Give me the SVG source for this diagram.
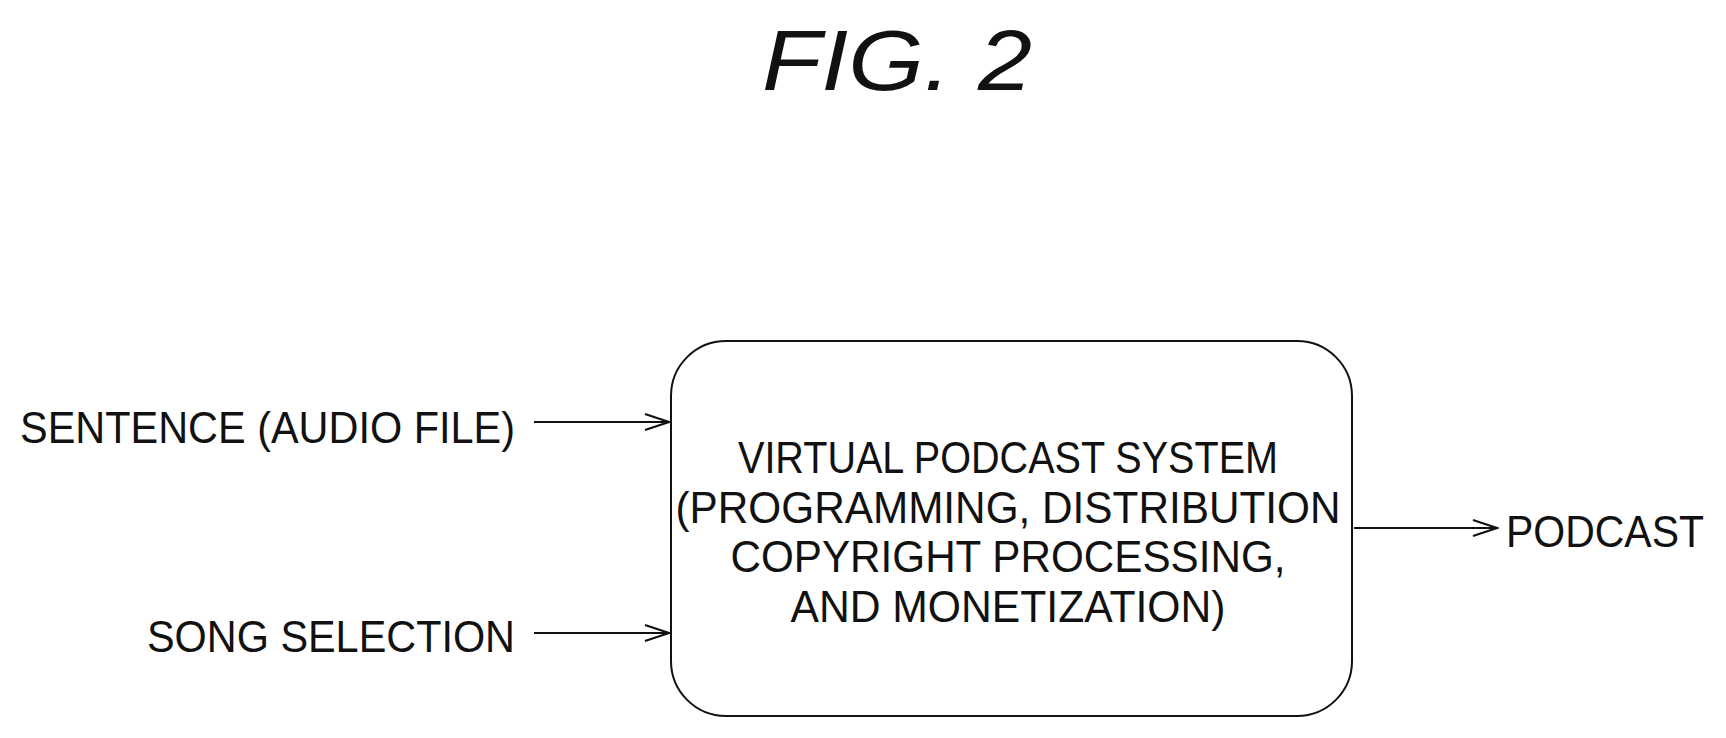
<svg xmlns="http://www.w3.org/2000/svg" width="1726" height="738" viewBox="0 0 1726 738">
<style>
text{font-family:"Liberation Sans",Arial,sans-serif;fill:#111}
.l{font-size:44px}
.c{font-size:44px;text-anchor:middle}
.ln{stroke:#111;stroke-width:2;fill:none}
</style>
<defs><marker id="a" markerWidth="28" markerHeight="20" refX="26" refY="10" orient="auto" markerUnits="userSpaceOnUse"><path d="M2,2 L26,10 L2,18" fill="none" stroke="#111" stroke-width="2"/></marker></defs>
<rect width="1726" height="738" fill="#fff"/>
<text x="897" y="90" font-size="86" font-style="italic" text-anchor="middle" textLength="270" lengthAdjust="spacingAndGlyphs">FIG. 2</text>
<g id="input1"><text class="l" x="20" y="443" textLength="495" lengthAdjust="spacingAndGlyphs">SENTENCE (AUDIO FILE)</text></g>
<g id="input2"><text class="l" x="147" y="652" textLength="368" lengthAdjust="spacingAndGlyphs">SONG SELECTION</text></g>
<g id="system">
<rect x="671" y="341" width="681" height="375" rx="55" class="ln" stroke-width="2.5"/>
<text class="c" x="1008" y="473" textLength="540" lengthAdjust="spacingAndGlyphs">VIRTUAL PODCAST SYSTEM</text>
<text class="c" x="1008" y="523" textLength="665" lengthAdjust="spacingAndGlyphs">(PROGRAMMING, DISTRIBUTION</text>
<text class="c" x="1008" y="572" textLength="555" lengthAdjust="spacingAndGlyphs">COPYRIGHT PROCESSING,</text>
<text class="c" x="1008" y="622" textLength="435" lengthAdjust="spacingAndGlyphs">AND MONETIZATION)</text>
</g>
<g id="output"><text class="l" x="1506" y="547" textLength="198" lengthAdjust="spacingAndGlyphs">PODCAST</text></g>
<g id="connectors">
<line class="ln" x1="534" y1="422" x2="669" y2="422" marker-end="url(#a)"/>
<line class="ln" x1="534" y1="633" x2="669" y2="633" marker-end="url(#a)"/>
<line class="ln" x1="1354" y1="528" x2="1497" y2="528" marker-end="url(#a)"/>
</g>
</svg>
